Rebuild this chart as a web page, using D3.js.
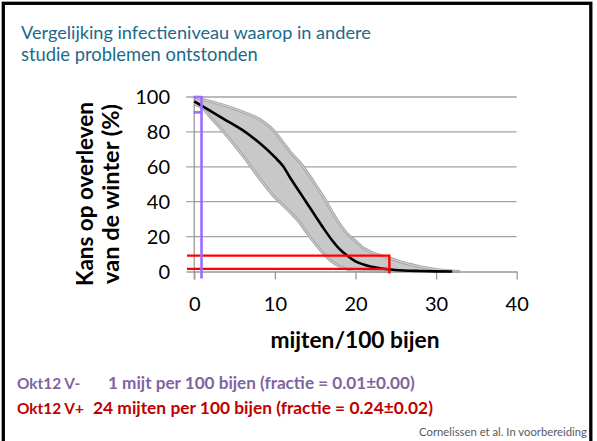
<!DOCTYPE html>
<html>
<head>
<meta charset="utf-8">
<script src="https://cdn.jsdelivr.net/npm/d3@7"></script>
<style>
  body { margin: 0; background: #fff; }
  svg { display: block; font-family: Lato, "Open Sans", sans-serif; }
</style>
</head>
<body>
<svg id="chart" width="597" height="441"></svg>
<script>
// survival curve (mean) and its confidence band
const meanX = [0, 2, 4, 6, 8, 10, 11, 12, 13, 14, 15, 16, 17, 18, 19, 20, 21, 22, 23, 24, 26, 28, 30, 32];
const meanY = [97.5, 92, 86.5, 81, 74, 65.5, 60.5, 53, 46, 39, 32, 25, 18.5, 13, 9, 5.8, 4, 2.7, 1.9, 1.3, 0.6, 0.3, 0.1, 0];

const upperX = [0, 2, 4, 6, 8, 10, 11, 12, 13, 14, 15, 16, 17, 18, 19, 20, 21, 22, 23, 24, 25, 26, 28, 30, 32, 33];
const upperY = [99.8, 97.5, 94.8, 91.5, 87.5, 80, 74, 68, 63, 57, 50, 43, 35, 27.5, 21.5, 17.5, 13.3, 11, 9.4, 8, 6.5, 5, 2.8, 1.2, 0.3, 0];

const lowerX = [0, 1, 2, 4, 6, 8, 9, 10, 11, 12, 13, 14, 15, 16, 17, 18, 19, 20, 22, 24];
const lowerY = [96, 93.8, 88.5, 78, 66.5, 54, 48, 42.5, 38, 33.5, 28.5, 22, 16, 10.5, 6, 3, 1.3, 0.6, 0.1, 0];

const xTicks = [0, 10, 20, 30, 40];
const yTicks = [0, 20, 40, 60, 80, 100];

// markers: Okt12 V- (purple) and Okt12 V+ (red)
const purpleX = 0.9;
const purpleBracket = [91.2, 100];
const redX = 24.2;
const redLevels = [1.5, 9.1];

const titleLines = ["Vergelijking infectieniveau waarop in andere", "studie problemen ontstonden"];
const yTitleLines = ["Kans op overleven", "van de winter (%)"];
const xTitle = "mijten/100 bijen";
const noteLabels = ["Okt12 V-", "Okt12 V+"];
const noteTexts = ["1 mijt per 100 bijen (fractie = 0.01\u00b10.00)", "24 mijten per 100 bijen (fractie = 0.24\u00b10.02)"];
const citation = "Cornelissen et al. In voorbereiding";

const svg = d3.select("#chart");

const x = d3.scaleLinear().domain([-1, 40]).range([186.2, 516.7]);
const y = d3.scaleLinear().domain([0, 100]).range([271.5, 97]);

// frame round the slide
svg.append("rect")
  .attr("x", 3.3).attr("y", 3.3)
  .attr("width", 587.5).attr("height", 460)
  .attr("fill", "none").attr("stroke", "#000").attr("stroke-width", 3.3);

// scale a text's font size so it spans the given width
function fit(sel, width) {
  const fs = parseFloat(sel.attr("font-size"));
  const w = sel.node().getComputedTextLength();
  if (w > 0) sel.attr("font-size", fs * width / w);
  return sel;
}

// title
const titleWidths = [350, 237];
titleLines.forEach((t, i) => {
  fit(svg.append("text")
    .attr("x", 21).attr("y", 39 + i * 22)
    .attr("font-size", 18).attr("fill", "#1b6a8c")
    .text(t), titleWidths[i]);
});

// gridlines
svg.append("g").selectAll("line")
  .data(yTicks.filter(d => d > 0))
  .join("line")
  .attr("x1", x(-1)).attr("x2", x(40))
  .attr("y1", d => y(d)).attr("y2", d => y(d))
  .attr("stroke", "#a3a3a3").attr("stroke-width", 1.3);

// confidence band
const line = d3.line().x(d => x(d[0])).y(d => y(d[1])).curve(d3.curveMonotoneX);
const upperPts = upperX.map((v, i) => [v, upperY[i]]);
const lowerPts = lowerX.map((v, i) => [v, lowerY[i]]);
const meanPts = meanX.map((v, i) => [v, meanY[i]]);

const upperD = line(upperPts);
const lowerRevD = line(lowerPts.slice().reverse());
svg.append("path")
  .attr("d", upperD + "L" + lowerRevD.slice(1) + "Z")
  .attr("fill", "#c8c8c8");

[upperPts, lowerPts].forEach(pts => {
  svg.append("path").attr("d", line(pts))
    .attr("fill", "none").attr("stroke", "#a8a8a8").attr("stroke-width", 3);
  svg.append("path").attr("d", line(pts))
    .attr("fill", "none").attr("stroke", "#fff").attr("stroke-width", 0.7).attr("opacity", 0.75);
});

// axes
const xAxis = svg.append("g").attr("transform", `translate(0,${y(0)})`)
  .call(d3.axisBottom(x).tickValues(xTicks).tickSize(8).tickPadding(17).tickSizeOuter(0));
xAxis.select(".domain").attr("stroke", "#9a9a9a").attr("stroke-width", 1.3);
xAxis.selectAll(".tick line").attr("stroke", "#9a9a9a").attr("stroke-width", 1.3);
xAxis.selectAll(".tick text").attr("font-size", 20).attr("font-family", "Lato").attr("fill", "#000");

svg.append("line")
  .attr("x1", x(0)).attr("x2", x(0))
  .attr("y1", y(100)).attr("y2", y(0) + 8)
  .attr("stroke", "#9a9a9a").attr("stroke-width", 1.3);

svg.append("g").selectAll("text")
  .data(yTicks)
  .join("text")
  .attr("x", 170).attr("y", d => y(d))
  .attr("dy", "0.35em")
  .attr("text-anchor", "end")
  .attr("font-size", 20).attr("fill", "#000")
  .text(d => d);

// mean survival curve
svg.append("path").attr("d", line(meanPts))
  .attr("fill", "none").attr("stroke", "#000").attr("stroke-width", 2.6);

// red: V+ level
const red = svg.append("g").attr("stroke", "#ff0000").attr("stroke-width", 2.4).attr("fill", "none");
redLevels.forEach(v => {
  red.append("line").attr("x1", x(-0.9)).attr("x2", x(redX)).attr("y1", y(v)).attr("y2", y(v));
});
red.append("line").attr("x1", x(redX)).attr("x2", x(redX))
  .attr("y1", y(d3.max(redLevels)) - 1).attr("y2", y(0) + 2);

// purple: V- level
const purple = svg.append("g").attr("stroke", "#9b6cff").attr("stroke-width", 2.6).attr("fill", "none");
purple.append("line").attr("x1", x(purpleX)).attr("x2", x(purpleX))
  .attr("y1", y(100) - 1).attr("y2", y(0) + 7);
purpleBracket.forEach(v => {
  purple.append("line").attr("x1", x(-0.1)).attr("x2", x(purpleX)).attr("y1", y(v)).attr("y2", y(v));
});

// axis titles
const yTitle = svg.append("g").attr("transform", "translate(0,194) rotate(-90)");
const yTitleX = [93, 119];
const yTitleW = [184, 180];
yTitleLines.forEach((t, i) => {
  fit(yTitle.append("text")
    .attr("x", 0).attr("y", yTitleX[i])
    .attr("text-anchor", "middle")
    .attr("font-size", 21).attr("font-weight", "bold").attr("fill", "#000")
    .text(t), yTitleW[i]);
});

fit(svg.append("text")
  .attr("x", 355).attr("y", 348)
  .attr("text-anchor", "middle")
  .attr("font-size", 21).attr("font-weight", "bold").attr("fill", "#000")
  .text(xTitle), 169);

// notes under the chart
const noteColors = ["#8064a2", "#c00000"];
const noteY = [389, 414];
const textX = [108, 93];
const textW = [307, 340];

// both labels share the size that makes "Okt12 V+" end before its text
const probe = svg.append("text")
  .attr("font-size", 14).attr("font-weight", "bold").text(noteLabels[1]);
fit(probe, 67);
const labelSize = probe.attr("font-size");
probe.remove();

noteLabels.forEach((t, i) => {
  fit(svg.append("text")
    .attr("x", textX[i]).attr("y", noteY[i])
    .attr("font-size", 14).attr("font-weight", "bold").attr("fill", noteColors[i])
    .text(noteTexts[i]), textW[i]);
  svg.append("text")
    .attr("x", 17).attr("y", noteY[i])
    .attr("font-size", labelSize).attr("font-weight", "bold").attr("fill", noteColors[i])
    .text(t);
});

fit(svg.append("text")
  .attr("x", 587).attr("y", 436)
  .attr("text-anchor", "end")
  .attr("font-size", 12).attr("fill", "#595959")
  .text(citation), 168);
</script>
</body>
</html>
